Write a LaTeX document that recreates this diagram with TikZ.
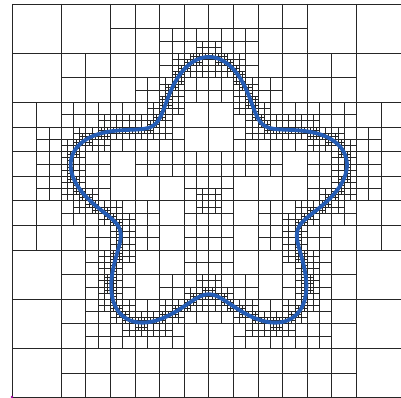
\documentclass[tikz,border=0pt]{standalone}
\definecolor{curveblue}{RGB}{36,92,180}
\def\CX{208.8}\def\CY{200.8}\def\S{196.8}
\def\Ra{0.603}\def\Rb{0.128}
\tikzset{meshline/.style={draw=black!85,line width=0.7pt},
  curveline/.style={draw=curveblue,line width=3.8pt,line join=round}}
\newcount\qtlev
\def\qtcell#1#2#3#4{%
  \begingroup
  \ifnum#4<7
    \pgfmathsetmacro\qu{(#1+#3/2-\CX)/\S}%
    \pgfmathsetmacro\qv{(\CY-#2-#3/2)/\S}%
    \pgfmathsetmacro\qr{sqrt(\qu*\qu+\qv*\qv)}%
    \pgfmathsetmacro\qt{atan2(\qv,\qu)}%
    \pgfmathsetmacro\qf{\Ra+\Rb*sin(5*\qt)}%
    \pgfmathsetmacro\qg{5*\Rb*cos(5*\qt)/\qr}%
    \pgfmathsetmacro\qd{abs(\qr-\qf)/sqrt(1+\qg*\qg)*\S}%
    \ifcase#4 \def\qc{1}\or\def\qc{1}\or\def\qc{1}\or\def\qc{1.45}\or\def\qc{1.3}\or\def\qc{1.1}\or\def\qc{0.75}\fi
    \pgfmathsetmacro\qlim{\qc*#3}%
    \ifdim\qd pt<\qlim pt
      \pgfmathsetmacro\qh{#3/2}%
      \pgfmathsetmacro\qxm{#1+\qh}%
      \pgfmathsetmacro\qym{#2+\qh}%
      \draw[meshline] (\qxm,#2) -- (\qxm,#2+#3) (#1,\qym) -- (#1+#3,\qym);
      \qtlev=#4 \advance\qtlev by 1
      \edef\qdo{\noexpand\qtcell{#1}{#2}{\qh}{\the\qtlev}%
        \noexpand\qtcell{\qxm}{#2}{\qh}{\the\qtlev}%
        \noexpand\qtcell{#1}{\qym}{\qh}{\the\qtlev}%
        \noexpand\qtcell{\qxm}{\qym}{\qh}{\the\qtlev}}%
      \qdo
    \fi
  \fi
  \endgroup}
\begin{document}
\begin{tikzpicture}[x=1pt,y=-1pt]
\useasboundingbox (0,0) rectangle (401,398);
\clip (0,0) rectangle (401,398);
\fill[white] (0,0) rectangle (401,398);
\foreach \k in {0,...,8}{
  \pgfmathsetmacro\gp{12+\k*49.2}
  \draw[meshline] (\gp,4) -- (\gp,397.6);
  \pgfmathsetmacro\gq{4+\k*49.2}
  \draw[meshline] (12,\gq) -- (405.6,\gq);
}
\foreach \i in {0,...,7}{
  \foreach \j in {0,...,7}{
    \pgfmathsetmacro\qx{12+\i*49.2}
    \pgfmathsetmacro\qy{4+\j*49.2}
    \edef\qstart{\noexpand\qtcell{\qx}{\qy}{49.2}{3}}
    \qstart
  }
}
\draw[curveline] plot[domain=0:360,samples=360] ({\CX+\S*(\Ra+\Rb*sin(5*\x))*cos(\x)},{\CY-\S*(\Ra+\Rb*sin(5*\x))*sin(\x)}) -- cycle;
\fill[violet!70!magenta] (12,397) circle (1.3);
\end{tikzpicture}
\end{document}
